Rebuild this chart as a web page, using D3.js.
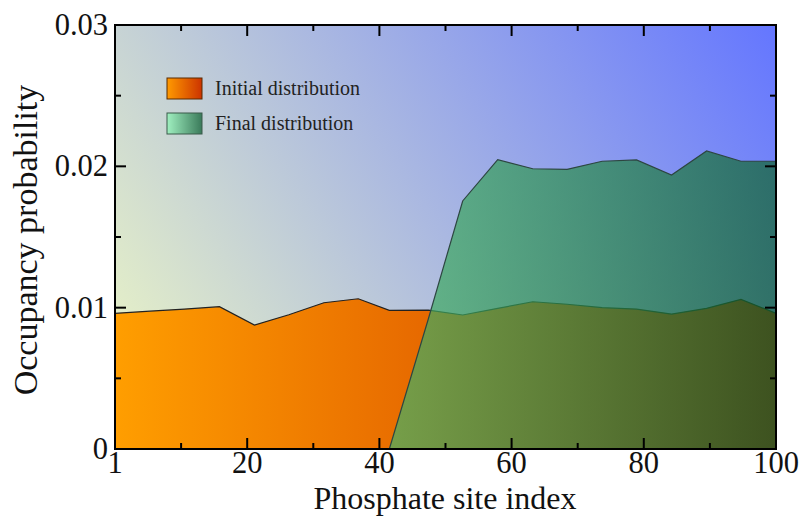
<!DOCTYPE html>
<html><head><meta charset="utf-8">
<script src="https://cdn.jsdelivr.net/npm/d3@7"></script>
<style>body{margin:0;background:#fff}svg{display:block}</style>
</head><body>
<svg id="chart" width="804" height="516"></svg>
<script>
const sites = [0, 5.3, 10.5, 15.8, 21.1, 26.3, 31.6, 36.8, 41.5, 47.4, 52.6, 57.9, 63.2, 68.4, 73.7, 78.9, 84.2, 89.5, 94.7, 100];
const initialDist = [0.0096, 0.00975, 0.0099, 0.01007, 0.00877, 0.0095, 0.01035, 0.01063, 0.00981, 0.00983, 0.00948, 0.00995, 0.01042, 0.01024, 0.0100, 0.0099, 0.00955, 0.00995, 0.01059, 0.0096];
const finalDist = [0, 0, 0, 0, 0, 0, 0, 0, 0, 0.0092, 0.01755, 0.02047, 0.01983, 0.01979, 0.02036, 0.02045, 0.01939, 0.02109, 0.02036, 0.02036];
const xTicks = [0, 20, 40, 60, 80, 100];
const xTickLabels = ["1", "20", "40", "60", "80", "100"];
const xMinor = [10, 30, 50, 70, 90];
const yTicks = [0, 0.01, 0.02, 0.03];
const yTickLabels = ["0", "0.01", "0.02", "0.03"];
const yMinor = [0.005, 0.015, 0.025];
const legendLabels = ["Initial distribution", "Final distribution"];

const svg = d3.select("#chart");
const L = 115, R = 776, T = 25, B = 449;
const x = d3.scaleLinear().domain([0, 100]).range([L, R]);
const y = d3.scaleLinear().domain([0, 0.03]).range([B, T]);
const FONT = "'Liberation Serif','Times New Roman',serif";

const defs = svg.append("defs");
const bg = defs.append("linearGradient").attr("id", "bg").attr("gradientUnits", "userSpaceOnUse")
  .attr("x1", L).attr("y1", B).attr("x2", R).attr("y2", T);
bg.append("stop").attr("offset", 0).attr("stop-color", "rgb(240,250,195)");
bg.append("stop").attr("offset", 1).attr("stop-color", "rgb(100,118,255)");

const og = defs.append("linearGradient").attr("id", "og").attr("gradientUnits", "userSpaceOnUse")
  .attr("x1", L).attr("y1", 0).attr("x2", R).attr("y2", 0);
og.append("stop").attr("offset", 0).attr("stop-color", "rgb(255,158,0)");
og.append("stop").attr("offset", 0.48).attr("stop-color", "rgb(230,104,0)");
og.append("stop").attr("offset", 1).attr("stop-color", "rgb(170,40,0)");

const gg = defs.append("linearGradient").attr("id", "gg").attr("gradientUnits", "userSpaceOnUse")
  .attr("x1", L).attr("y1", 0).attr("x2", R).attr("y2", 0);
gg.append("stop").attr("offset", 0).attr("stop-color", "rgb(120,215,150)");
gg.append("stop").attr("offset", 0.42).attr("stop-color", "rgb(68,178,104)");
gg.append("stop").attr("offset", 1).attr("stop-color", "rgb(15,100,45)");

const olg = defs.append("linearGradient").attr("id", "olg");
olg.append("stop").attr("offset", 0).attr("stop-color", "#ff9a00");
olg.append("stop").attr("offset", 1).attr("stop-color", "#cc3300");
const glg = defs.append("linearGradient").attr("id", "glg");
glg.append("stop").attr("offset", 0).attr("stop-color", "#a0f0c0");
glg.append("stop").attr("offset", 1).attr("stop-color", "#3a7a5a");

svg.append("rect").attr("x", L).attr("y", T).attr("width", R - L).attr("height", B - T).attr("fill", "url(#bg)");

const initData = sites.map((s, i) => ({s, v: initialDist[i]}));
const finData = sites.map((s, i) => ({s, v: finalDist[i]})).filter((d, i) => i >= 8);

const area = d3.area().x(d => x(d.s)).y0(y(0)).y1(d => y(d.v));
const line = d3.line().x(d => x(d.s)).y(d => y(d.v));

svg.append("path").datum(initData).attr("d", area).attr("fill", "url(#og)");
svg.append("path").datum(initData).attr("d", line).attr("fill", "none").attr("stroke", "#222").attr("stroke-width", 1.2);

svg.append("path").datum(finData).attr("d", area).attr("fill", "url(#gg)").attr("fill-opacity", 0.7);
svg.append("path").datum(finData).attr("d", line).attr("fill", "none").attr("stroke", "rgb(45,70,65)").attr("stroke-width", 1.2);

// frame
svg.append("rect").attr("x", L).attr("y", T).attr("width", R - L).attr("height", B - T)
  .attr("fill", "none").attr("stroke", "#000").attr("stroke-width", 2);

const tk = svg.append("g").attr("stroke", "#000").attr("stroke-width", 2);
const MAJ = 11, MIN = 6;
xTicks.concat(xMinor).forEach(t => {
  const len = xTicks.includes(t) ? MAJ : MIN;
  tk.append("line").attr("x1", x(t)).attr("x2", x(t)).attr("y1", B).attr("y2", B - len);
  tk.append("line").attr("x1", x(t)).attr("x2", x(t)).attr("y1", T).attr("y2", T + len);
});
yTicks.concat(yMinor).forEach(t => {
  const len = yTicks.includes(t) ? MAJ : MIN;
  tk.append("line").attr("y1", y(t)).attr("y2", y(t)).attr("x1", L).attr("x2", L + len);
  tk.append("line").attr("y1", y(t)).attr("y2", y(t)).attr("x1", R).attr("x2", R - len);
});

const txt = svg.append("g").attr("font-family", FONT).attr("fill", "#111");
xTicks.forEach((t, i) => {
  txt.append("text").attr("x", x(t)).attr("y", 473).attr("text-anchor", "middle").attr("font-size", 30.5).text(xTickLabels[i]);
});
yTicks.forEach((t, i) => {
  txt.append("text").attr("x", 108).attr("y", y(t) + 10).attr("text-anchor", "end").attr("font-size", 30.5).text(yTickLabels[i]);
});
txt.append("text").attr("x", 445).attr("y", 508.5).attr("text-anchor", "middle").attr("font-size", 32).text("Phosphate site index");
txt.append("text").attr("transform", "translate(37,240) rotate(-90)").attr("text-anchor", "middle").attr("font-size", 34).text("Occupancy probability");

// legend
const lg = svg.append("g");
[["url(#olg)", "#5a2a00"], ["url(#glg)", "#3a5a4a"]].forEach((c, i) => {
  lg.append("rect").attr("x", 167).attr("y", 78 + i * 35).attr("width", 35).attr("height", 21)
    .attr("fill", c[0]).attr("stroke", c[1]).attr("stroke-width", 1);
  lg.append("text").attr("x", 215).attr("y", 95 + i * 35).attr("font-family", FONT).attr("font-size", 20)
    .attr("fill", "#222").text(legendLabels[i]);
});
</script>
</body></html>
